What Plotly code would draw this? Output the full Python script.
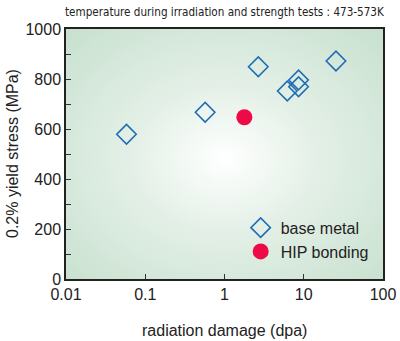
import base64
import plotly.graph_objects as go

# data
base_dpa = [0.058, 0.57, 2.67, 6.2, 8.6, 8.6, 25.5]
base_stress = [579, 667, 849, 752, 769, 796, 872]
hip_dpa = [1.78]
hip_stress = [647]
x_tickvals = [0.01, 0.1, 1, 10, 100]
x_ticktext = ["0.01", "0.1", "1", "10", "100"]
title_text = "temperature during irradiation and strength tests : 473-573K"
x_title = "radiation damage (dpa)"
y_title = "0.2% yield stress (MPa)"

svg = (
    '<svg xmlns="http://www.w3.org/2000/svg" width="317" height="250" viewBox="0 0 317 250" preserveAspectRatio="none">'
    '<defs><radialGradient id="g" cx="50%" cy="52%" r="72%">'
    '<stop offset="0%" stop-color="#ffffff"/>'
    '<stop offset="40%" stop-color="#e4f0e7"/>'
    '<stop offset="100%" stop-color="#c7e0cf"/>'
    '</radialGradient></defs>'
    '<rect width="317" height="250" fill="url(#g)"/></svg>'
)
svg_uri = "data:image/svg+xml;base64," + base64.b64encode(svg.encode()).decode()

fig = go.Figure()
fig.add_trace(go.Scatter(
    x=base_dpa, y=base_stress, mode="markers", name="base metal",
    marker=dict(symbol="diamond-open", size=15, color="#1f6db3",
                line=dict(width=1.6, color="#1f6db3")),
))
fig.add_trace(go.Scatter(
    x=hip_dpa, y=hip_stress, mode="markers", name="HIP bonding",
    marker=dict(symbol="circle", size=16, color="#ee0a47"),
))

font_main = "Liberation Sans, Arial, sans-serif"
fig.update_layout(
    width=400, height=341,
    margin=dict(l=66, r=17, t=29, b=62),
    paper_bgcolor="white",
    plot_bgcolor="rgba(0,0,0,0)",
    font=dict(family=font_main, size=16, color="#222"),
    showlegend=True,
    legend=dict(x=0.551, y=0.273, xanchor="left", yanchor="top",
                bgcolor="rgba(0,0,0,0)", font=dict(size=16, color="#222"),
                itemsizing="trace", tracegroupgap=0),
    images=[dict(source=svg_uri, xref="paper", yref="paper", x=0, y=1,
                 sizex=1, sizey=1, sizing="stretch", layer="below",
                 xanchor="left", yanchor="top")],
    annotations=[
        dict(text=title_text, xref="paper", yref="paper",
             x=0.5, y=1, yanchor="bottom", yshift=8, showarrow=False,
             font=dict(family="DejaVu Sans Condensed, sans-serif",
                       size=11.6, color="#222")),
        dict(text=x_title, xref="paper", yref="paper", x=0.5, y=0,
             yanchor="middle", yshift=-51, showarrow=False,
             font=dict(size=16, color="#222")),
        dict(text=y_title, xref="paper", yref="paper", x=0, y=0.5,
             xanchor="center", xshift=-54, showarrow=False, textangle=-90,
             font=dict(size=16, color="#222")),
    ],
)
fig.update_xaxes(
    type="log", range=[-2, 2], tickvals=x_tickvals, ticktext=x_ticktext,
    ticks="inside", ticklen=5, tickcolor="#333", tickwidth=1,
    showline=True, linecolor="#222", linewidth=1.5, mirror=True,
    showgrid=False, zeroline=False, automargin=False,
    tickfont=dict(size=16),
)
fig.update_yaxes(
    range=[0, 1000], dtick=200, ticks="inside", ticklen=5, tickcolor="#333",
    minor=dict(dtick=100, ticks="inside", ticklen=5, tickcolor="#333"),
    showline=True, linecolor="#222", linewidth=1.5, mirror=True,
    showgrid=False, zeroline=False, automargin=False,
    tickfont=dict(size=16),
)
fig.write_html("out.html")
